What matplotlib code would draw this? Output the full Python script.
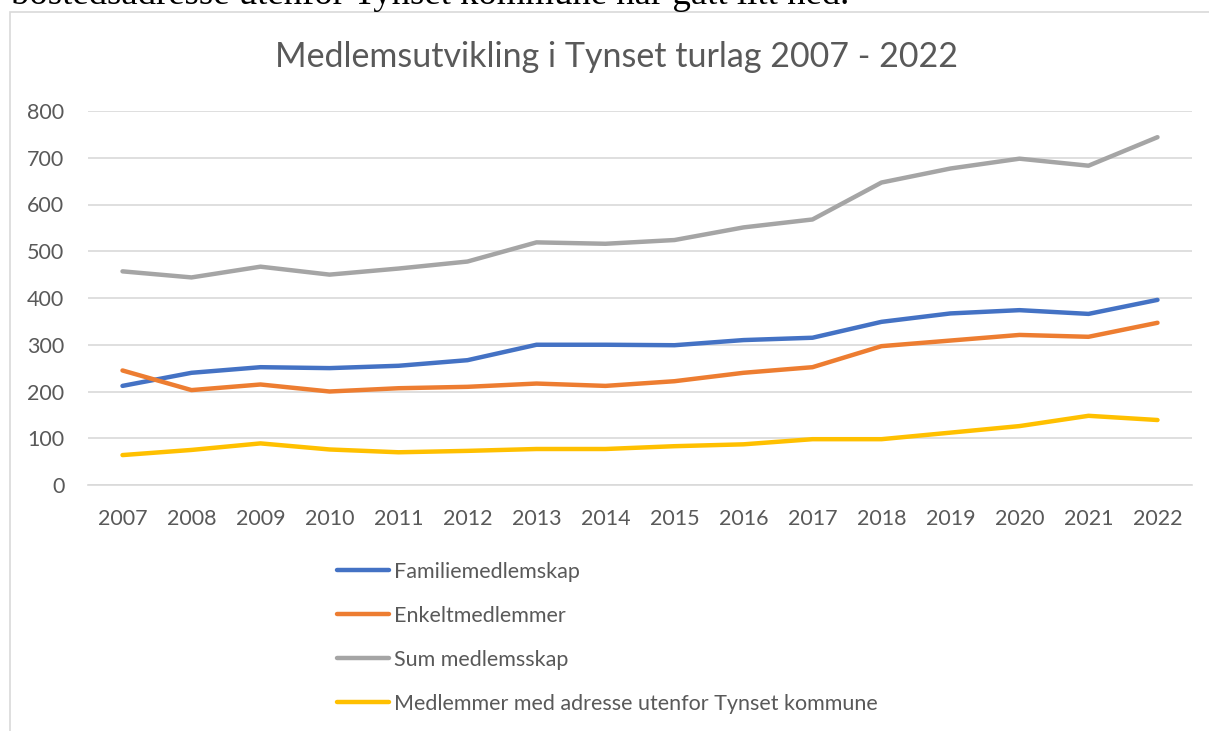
import matplotlib
matplotlib.use("Agg")
import matplotlib.pyplot as plt
from matplotlib.patches import Rectangle

years = [str(y) for y in range(2007, 2023)]
familie = [212, 240, 252, 250, 255, 267, 300, 300, 299, 310, 315, 349, 367, 374, 366, 396]
enkelt = [245, 203, 215, 200, 207, 210, 217, 212, 222, 240, 252, 297, 309, 321, 317, 347]
summ = [457, 444, 467, 450, 463, 478, 519, 516, 524, 551, 568, 647, 677, 698, 683, 744]
utenfor = [64, 75, 89, 76, 70, 73, 77, 77, 83, 87, 98, 98, 112, 126, 148, 139]

names = ["Familiemedlemskap", "Enkeltmedlemmer", "Sum medlemsskap",
         "Medlemmer med adresse utenfor Tynset kommune"]
colors = ["#4472C4", "#ED7D31", "#A5A5A5", "#FFC000"]

plt.rcParams['font.family'] = ['Lato', 'DejaVu Sans']

W, H = 1209, 731
fig = plt.figure(figsize=(W / 100, H / 100), dpi=100)

# chart border and the cut-off text line above it
fig.add_artist(Rectangle((10 / W, -0.01), 1.02, 1 - 12 / H + 0.01,
                         transform=fig.transFigure, fill=False,
                         edgecolor="#d9d9d9", linewidth=1.2))
fig.text(11 / W, 1 - 4 / H, "bostedsadresse utenfor Tynset kommune har gått litt ned.",
         family="Liberation Serif", fontsize=26.5, va="baseline", ha="left", color="black")

ax = fig.add_axes([88 / W, 1 - 485 / H, (1192 - 88) / W, (485 - 111) / H])
x = list(range(len(years)))
for vals, name, c in zip([familie, enkelt, summ, utenfor], names, colors):
    ax.plot(x, vals, color=c, lw=3.2, label=name, solid_capstyle="round",
            solid_joinstyle="round", clip_on=False)

ax.set_xlim(-0.5, len(years) - 0.5)
ax.set_ylim(0, 800)
ax.set_yticks(range(0, 801, 100))
ax.set_xticks(x)
ax.set_xticklabels(years)
ax.grid(axis="y", color="#d9d9d9", lw=1.2)
ax.set_axisbelow(True)
for s in ["top", "right", "left"]:
    ax.spines[s].set_visible(False)
ax.spines["bottom"].set_color("#d9d9d9")
ax.spines["bottom"].set_linewidth(1.2)
ax.tick_params(length=0, labelsize=15.5, colors="#595959")
ax.tick_params(axis="x", pad=17)
ax.tick_params(axis="y", pad=17)

fig.text(0.5 * (277 + 956) / W, 1 - 57 / H, "Medlemsutvikling i Tynset turlag 2007 - 2022",
         ha="center", va="center", fontsize=24.5, color="#595959")

leg = fig.legend(loc="upper left", bbox_to_anchor=(328 / W, 1 - 553 / H),
                 frameon=False, fontsize=15.5, handlelength=2.45, handletextpad=0.2,
                 labelspacing=1.12, borderaxespad=0)
for t in leg.get_texts():
    t.set_color("#595959")

fig.savefig("out.png", dpi=100)
